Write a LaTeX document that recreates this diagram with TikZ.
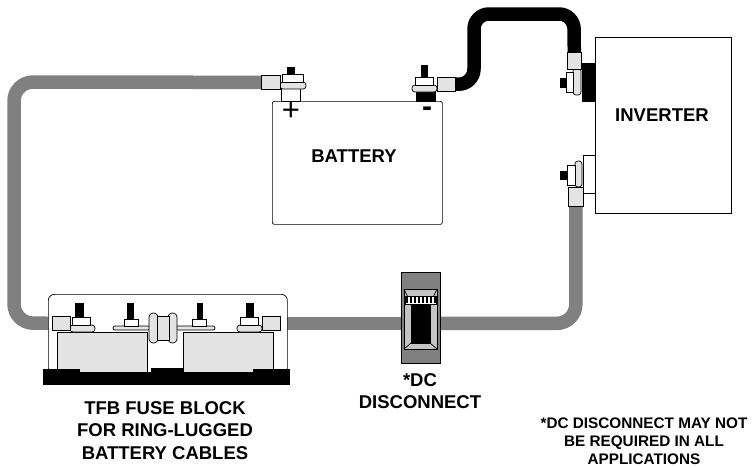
\documentclass[tikz,border=0pt]{standalone}
\usepackage{fontspec}
\setmainfont{Liberation Sans}
\usetikzlibrary{positioning}
\usetikzlibrary{backgrounds}
\definecolor{cablegray}{HTML}{808080}
\definecolor{luggray}{HTML}{E3E3E3}
\definecolor{bevelgray}{HTML}{C4C4C4}

\begin{document}
\begin{tikzpicture}[x=1pt, y=-1pt, line width=0.7pt,
			every node/.style={font=\bfseries},
			part/.style={draw, inner sep=0pt, anchor=north west},
			lug/.style={part, fill=luggray},
			cable/.style={line width=13.5pt, draw=cablegray, rounded corners=19pt},
			negcable/.style={cable, draw=black, rounded corners=15pt},
			label/.style={font=\bfseries\fontsize{18.5}{22.5}\selectfont, align=center, inner sep=0pt},
			sign/.style={font=\bfseries\fontsize{30}{30}\selectfont, inner sep=0pt}]
			\useasboundingbox (0,0) rectangle (752,467);
			% battery
			\node[part, rounded corners=2pt, minimum width=170pt, minimum height=123pt](battery) at (272,101){};
			\node[label](batterytext) at (354,156){BATTERY};
			\node[sign, font=\fontsize{31}{31}\selectfont](plus) at (291,112){+};
			\node[sign](minus) at (427,112){-};
			\draw[fill=white] (281,88) rectangle (300,101);
			\draw[fill=luggray, rounded corners=3pt] (280,82) rectangle (306,89);
			\draw[fill=white] (282,74) rectangle (303,82);
			\draw[fill=black] (287,67) rectangle (294,74);
			\node[lug, minimum width=19pt, minimum height=14pt](pluslug) at (261,75){};
			\draw[fill=black] (416,91) rectangle (435,101);
			\draw[fill=luggray, rounded corners=3pt] (412,85) rectangle (437,92);
			\draw[fill=white] (415,77) rectangle (433,85);
			\draw[fill=black] (421,65) rectangle (427,77);
			\node[lug, minimum width=18pt, minimum height=14pt](neglug) at (437,77){};
			% inverter
			\node[part, minimum width=136pt, minimum height=176pt](inverter) at (595,37){};
			\node[label](invertertext) at (662,115){INVERTER};
			\draw[fill=black] (582,63) rectangle (595,101);
			\draw[fill=white] (583,155) rectangle (595,193);
			\draw[fill=luggray, rounded corners=3pt] (573,68) rectangle (581,95);
			\draw[fill=white] (566,72) rectangle (573,92);
			\draw[fill=black] (560,78) rectangle (566,87);
			\node[lug, minimum width=14pt, minimum height=17pt](invneglug) at (567,52){};
			\draw[fill=luggray, rounded corners=3pt] (575,161) rectangle (582,187);
			\draw[fill=white] (567,165) rectangle (575,185);
			\draw[fill=black] (560,171) rectangle (567,179);
			\node[lug, minimum width=15pt, minimum height=19pt](invposlug) at (568,187){};
			% dc disconnect
			\node[part, fill=cablegray, minimum width=39pt, minimum height=91pt](disconnect) at (401,272){};
			\draw[fill=bevelgray] (404,289) rectangle (437,349);
			\draw[fill=black] (411,304) rectangle (430,343);
			\draw (404,289) -- (411,304) (437,289) -- (430,304) (404,349) -- (411,343) (437,349) -- (430,343);
			\draw[fill=white] (405,296) rectangle (436,304);
			\foreach \x in {407,411,...,435}
				\draw[line width=1.2pt] (\x,297) -- (\x,303);
			\node[label, anchor=north](disconnecttext) at (420,373){*DC\\DISCONNECT};
			% fuse block
			\node[part, fill=white, rounded corners=6pt, minimum width=239pt, minimum height=80pt](fuseblock) at (48,294){};
			\draw[fill=luggray] (57,332) rectangle (147,372) (183,332) rectangle (273,372);
			\draw[fill=black] (43,372) rectangle (289,384);
			\draw[fill=black] (43,369) rectangle (79,373) (151,368) rectangle (183,373) (253,369) rectangle (289,373);
			\draw[fill=luggray, rounded corners=3pt] (70,325) rectangle (95,332);
			\draw[fill=white] (72,317) rectangle (90,325);
			\draw[fill=black] (75,303) rectangle (83,317);
			\draw[fill=luggray, rounded corners=2pt] (113,326) rectangle (150,330);
			\draw[fill=white] (124,319) rectangle (138,326);
			\draw[fill=black] (127,303) rectangle (133,319);
			\draw[fill=luggray, rounded corners=2pt] (176,326) rectangle (215,330);
			\draw[fill=white] (192,319) rectangle (206,326);
			\draw[fill=black] (197,303) rectangle (202,319);
			\draw[fill=luggray, rounded corners=4pt] (149,313) rectangle (158,343) (168,313) rectangle (177,343);
			\draw[fill=luggray] (157,316) rectangle (169,340);
			\draw[fill=luggray, rounded corners=3pt] (237,325) rectangle (262,332);
			\draw[fill=white] (240,317) rectangle (258,325);
			\draw[fill=black] (246,303) rectangle (253,317);
			\node[lug, minimum width=18pt, minimum height=14pt](fuselug1) at (52,316){};
			\node[lug, minimum width=18pt, minimum height=14pt](fuselug2) at (262,316){};
			\node[label, anchor=north](fusetext) at (165,401){TFB FUSE BLOCK\\FOR RING-LUGGED\\BATTERY CABLES};
			\node[label, font=\bfseries\fontsize{15.3}{18}\selectfont, anchor=north](notetext) at (644,417){*DC DISCONNECT MAY NOT\\BE REQUIRED IN ALL\\APPLICATIONS};
			\begin{scope}[on background layer]
				\path[cable] (pluslug.center) -- (14,82) -- (14,323) -- (fuselug1.center);
				\path[negcable] (neglug.center) -- (474,84) -- (474,14) -- (574,14) -- (invneglug.center);
				\path[cable] (invposlug.center) |- (disconnect.center |- fuselug2.center);
				\path[cable] (disconnect.center |- fuselug2.center) -- (fuselug2.center);
			\end{scope}
	\end{tikzpicture}
\end{document}
